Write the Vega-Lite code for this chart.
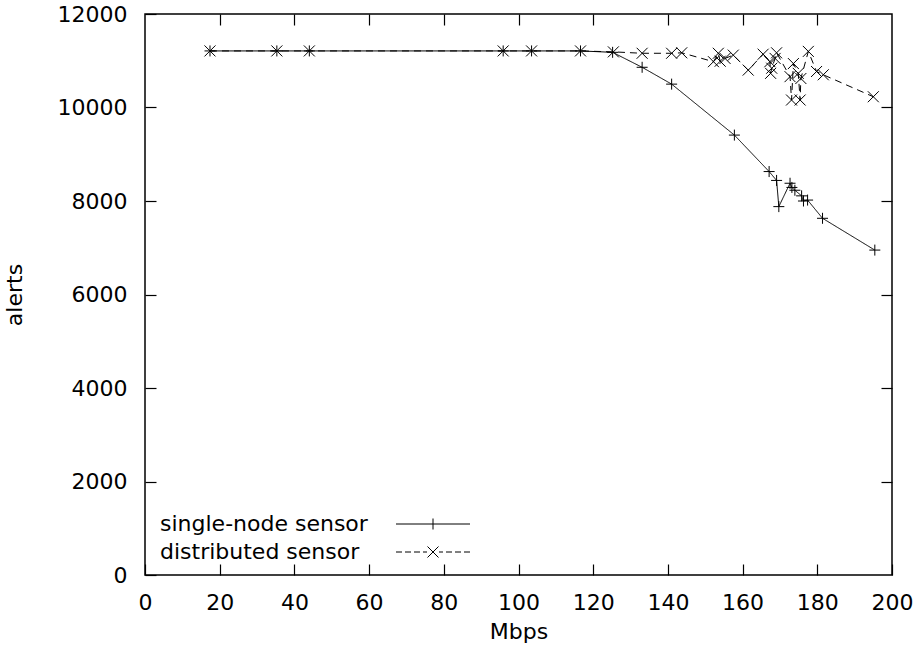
{
  "$schema": "https://vega.github.io/schema/vega-lite/v6.json",
  "autosize": {"type": "none"},
  "padding": {"left": 145, "top": 14, "right": 27, "bottom": 87},
  "width": 747,
  "height": 561,
  "background": "white",
  "config": {
    "view": {"stroke": "black", "strokeWidth": 1.5},
    "axis": {
      "domain": false,
      "grid": false,
      "ticks": true,
      "tickColor": "black",
      "tickSize": -11,
      "tickWidth": 1.2,
      "labelFont": "DejaVu Sans",
      "labelFontSize": 22,
      "labelColor": "black",
      "titleFont": "DejaVu Sans",
      "titleFontSize": 22,
      "titleFontWeight": "normal",
      "titleColor": "black"
    },
    "legend": {
      "labelFont": "DejaVu Sans",
      "labelFontSize": 22,
      "labelColor": "black"
    }
  },
  "data": {
    "values": [
      {"series": "single-node sensor", "i": 1, "mbps": 17.4, "alerts": 11210},
      {"series": "single-node sensor", "i": 2, "mbps": 35.3, "alerts": 11210},
      {"series": "single-node sensor", "i": 3, "mbps": 44.0, "alerts": 11210},
      {"series": "single-node sensor", "i": 4, "mbps": 95.9, "alerts": 11210},
      {"series": "single-node sensor", "i": 5, "mbps": 103.5, "alerts": 11210},
      {"series": "single-node sensor", "i": 6, "mbps": 116.6, "alerts": 11210},
      {"series": "single-node sensor", "i": 7, "mbps": 125.2, "alerts": 11180},
      {"series": "single-node sensor", "i": 8, "mbps": 133.1, "alerts": 10860},
      {"series": "single-node sensor", "i": 9, "mbps": 141.0, "alerts": 10500},
      {"series": "single-node sensor", "i": 10, "mbps": 157.8, "alerts": 9410},
      {"series": "single-node sensor", "i": 11, "mbps": 167.1, "alerts": 8630},
      {"series": "single-node sensor", "i": 12, "mbps": 169.1, "alerts": 8440},
      {"series": "single-node sensor", "i": 13, "mbps": 169.7, "alerts": 7880},
      {"series": "single-node sensor", "i": 14, "mbps": 172.7, "alerts": 8380},
      {"series": "single-node sensor", "i": 15, "mbps": 173.2, "alerts": 8290},
      {"series": "single-node sensor", "i": 16, "mbps": 174.0, "alerts": 8230},
      {"series": "single-node sensor", "i": 17, "mbps": 175.8, "alerts": 8110},
      {"series": "single-node sensor", "i": 18, "mbps": 176.3, "alerts": 8000},
      {"series": "single-node sensor", "i": 19, "mbps": 177.4, "alerts": 8020},
      {"series": "single-node sensor", "i": 20, "mbps": 181.4, "alerts": 7630},
      {"series": "single-node sensor", "i": 21, "mbps": 195.4, "alerts": 6950},
      {"series": "distributed sensor", "i": 1, "mbps": 17.4, "alerts": 11210},
      {"series": "distributed sensor", "i": 2, "mbps": 35.3, "alerts": 11210},
      {"series": "distributed sensor", "i": 3, "mbps": 44.0, "alerts": 11210},
      {"series": "distributed sensor", "i": 4, "mbps": 95.9, "alerts": 11210},
      {"series": "distributed sensor", "i": 5, "mbps": 103.5, "alerts": 11210},
      {"series": "distributed sensor", "i": 6, "mbps": 116.6, "alerts": 11210},
      {"series": "distributed sensor", "i": 7, "mbps": 125.4, "alerts": 11190},
      {"series": "distributed sensor", "i": 8, "mbps": 133.1, "alerts": 11160},
      {"series": "distributed sensor", "i": 9, "mbps": 141.0, "alerts": 11160},
      {"series": "distributed sensor", "i": 10, "mbps": 143.7, "alerts": 11170},
      {"series": "distributed sensor", "i": 11, "mbps": 152.2, "alerts": 10980},
      {"series": "distributed sensor", "i": 12, "mbps": 153.5, "alerts": 11160},
      {"series": "distributed sensor", "i": 13, "mbps": 154.0, "alerts": 10990},
      {"series": "distributed sensor", "i": 14, "mbps": 155.3, "alerts": 11050},
      {"series": "distributed sensor", "i": 15, "mbps": 157.5, "alerts": 11120},
      {"series": "distributed sensor", "i": 16, "mbps": 161.5, "alerts": 10800},
      {"series": "distributed sensor", "i": 17, "mbps": 165.5, "alerts": 11140},
      {"series": "distributed sensor", "i": 18, "mbps": 167.3, "alerts": 10980},
      {"series": "distributed sensor", "i": 19, "mbps": 167.5, "alerts": 10730},
      {"series": "distributed sensor", "i": 20, "mbps": 167.8, "alerts": 10840},
      {"series": "distributed sensor", "i": 21, "mbps": 168.7, "alerts": 11050},
      {"series": "distributed sensor", "i": 22, "mbps": 169.1, "alerts": 11170},
      {"series": "distributed sensor", "i": 23, "mbps": 172.7, "alerts": 10660},
      {"series": "distributed sensor", "i": 24, "mbps": 173.1, "alerts": 10160},
      {"series": "distributed sensor", "i": 25, "mbps": 173.6, "alerts": 10940},
      {"series": "distributed sensor", "i": 26, "mbps": 174.9, "alerts": 10730},
      {"series": "distributed sensor", "i": 27, "mbps": 175.4, "alerts": 10160},
      {"series": "distributed sensor", "i": 28, "mbps": 175.6, "alerts": 10620},
      {"series": "distributed sensor", "i": 29, "mbps": 177.6, "alerts": 11200},
      {"series": "distributed sensor", "i": 30, "mbps": 179.8, "alerts": 10770},
      {"series": "distributed sensor", "i": 31, "mbps": 181.6, "alerts": 10700},
      {"series": "distributed sensor", "i": 32, "mbps": 195.0, "alerts": 10230}
    ]
  },
  "layer": [
    {
      "mark": {"type": "line", "color": "black", "strokeWidth": 1},
      "encoding": {
        "x": {"field": "mbps", "type": "quantitative", "scale": {"domain": [0, 200], "nice": false, "zero": false},
              "axis": {"orient": "bottom", "values": [0, 20, 40, 60, 80, 100, 120, 140, 160, 180, 200], "labelPadding": 28, "labelFlush": false, "title": "Mbps", "titlePadding": 8}},
        "y": {"field": "alerts", "type": "quantitative", "scale": {"domain": [0, 12000], "nice": false, "zero": false},
              "axis": {"orient": "left", "values": [0, 2000, 4000, 6000, 8000, 10000, 12000], "labelPadding": 29, "labelFlush": false, "format": "d", "title": "alerts", "titlePadding": 31}},
        "detail": {"field": "series"},
        "order": {"field": "i", "type": "quantitative"},
        "strokeDash": {"field": "series", "type": "nominal",
                       "scale": {"domain": ["single-node sensor", "distributed sensor"], "range": [[1, 0], [7, 5]]},
                       "legend": null}
      }
    },
    {
      "mark": {"type": "point", "filled": false, "stroke": "black", "strokeWidth": 1, "size": 121, "opacity": 1},
      "encoding": {
        "x": {"field": "mbps", "type": "quantitative", "axis": null},
        "y": {"field": "alerts", "type": "quantitative", "axis": null},
        "shape": {"field": "series", "type": "nominal",
                  "scale": {"domain": ["single-node sensor", "distributed sensor"], "range": ["M-1,0H1M0,-1V1", "M-1,-1L1,1M-1,1L1,-1"]},
                  "legend": null}
      }
    },
    {
      "transform": [{"filter": "false"}],
      "mark": {"type": "point", "filled": false, "stroke": "black", "strokeWidth": 1, "size": 100, "opacity": 1},
      "encoding": {
        "x": {"field": "mbps", "type": "quantitative",
              "axis": {"orient": "top", "values": [20, 40, 60, 80, 100, 120, 140, 160, 180], "labels": false, "title": null}},
        "y": {"field": "alerts", "type": "quantitative",
              "axis": {"orient": "right", "values": [2000, 4000, 6000, 8000, 10000], "labels": false, "title": null}},
        "shape": {"field": "series", "type": "nominal",
                  "scale": {"domain": ["single-node sensor", "distributed sensor"],
                            "range": ["M-7.4,0H7.4M0,-1.1V1.1",
                                      "M-7.4,0H-6.2M-5.6,0H-4.4M-3.8,0H-2.6M-2,0H-1.2M-1.1,-1.1L1.1,1.1M-1.1,1.1L1.1,-1.1M1.2,0H2M2.6,0H3.8M4.4,0H5.6M6.2,0H7.4"]},
                  "legend": {"orient": "none", "legendX": 277, "legendY": 499, "title": null, "padding": 0,
                             "symbolSize": 100, "symbolStrokeColor": "black", "symbolStrokeWidth": 1,
                             "labelAlign": "left", "labelOffset": -284, "rowPadding": 6, "labelLimit": 0}}
      }
    }
  ],
  "resolve": {
    "scale": {"shape": "independent"},
    "axis": {"x": "independent", "y": "independent"}
  }
}
